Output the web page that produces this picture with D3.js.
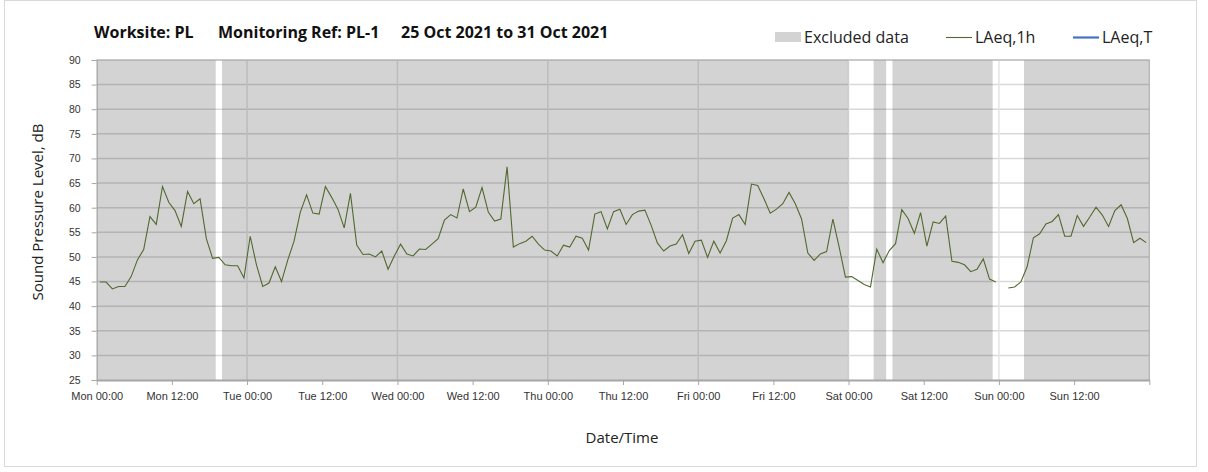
<!DOCTYPE html>
<html>
<head>
<meta charset="utf-8">
<script src="https://cdn.jsdelivr.net/npm/d3@7"></script>
<style>
  body { margin: 0; background: #fff; }
  svg { font-family: 'Open Sans', Lato, sans-serif; }
</style>
</head>
<body>
<div id="chart"></div>
<script>
'use strict';

// hourly LAeq,1h values from Mon 25 Oct 2021 00:00 (null = no data)
var startTime = '2021-10-25 00:00';
var endTime = '2021-11-01 00:00';
var laeq1h = [
    44.9, 44.9, 43.5, 44.0, 44.0, 46.0, 49.4, 51.5, 58.2, 56.6, 64.3, 61.1,
    59.4, 56.2, 63.3, 60.8, 61.8, 53.7, 49.7, 49.9, 48.4, 48.2, 48.2, 45.7,
    54.2, 48.4, 44.0, 44.7, 48.0, 45.0, 49.4, 53.2, 59.1, 62.6, 58.9, 58.7,
    64.3, 62.1, 59.7, 55.9, 62.9, 52.4, 50.5, 50.6, 50.0, 51.2, 47.5, 50.2,
    52.6, 50.6, 50.2, 51.6, 51.5, 52.6, 53.7, 57.5, 58.6, 57.9, 63.8, 59.2,
    60.1, 64.1, 59.1, 57.3, 57.7, 68.3, 52.0, 52.7, 53.2, 54.2, 52.6, 51.4,
    51.2, 50.2, 52.4, 52.0, 54.2, 53.8, 51.4, 58.7, 59.2, 55.7, 59.2, 59.7,
    56.6, 58.6, 59.3, 59.5, 56.4, 52.8, 51.2, 52.2, 52.6, 54.5, 50.7, 53.2,
    53.4, 49.9, 53.2, 50.8, 53.3, 57.9, 58.6, 56.6, 64.8, 64.5, 61.8, 58.9,
    59.7, 60.8, 63.1, 60.8, 57.7, 50.8, 49.3, 50.6, 51.1, 57.7, 52.0, 45.9,
    46.0, 45.2, 44.4, 43.9, 51.6, 48.8, 51.3, 52.7, 59.6, 57.8, 54.8, 59.0,
    52.2, 57.1, 56.8, 58.3, 49.1, 48.9, 48.4, 47.0, 47.5, 49.6, 45.5, 44.9,
    null, 43.7, 43.9, 44.9, 48.0, 53.9, 54.7, 56.7, 57.2, 58.6, 54.2, 54.2,
    58.4, 56.2, 58.1, 60.1, 58.5, 56.2, 59.4, 60.6, 57.8, 52.9, 53.8, 52.9
];

// excluded periods
var excludedFrom = ['2021-10-25 00:00', '2021-10-25 20:00', '2021-10-30 04:00', '2021-10-30 07:00', '2021-10-31 04:00'];
var excludedTo = ['2021-10-25 19:00', '2021-10-30 00:00', '2021-10-30 06:00', '2021-10-30 23:00', '2021-11-01 00:00'];

var yTicks = [25, 30, 35, 40, 45, 50, 55, 60, 65, 70, 75, 80, 85, 90];

var width = 1208, height = 472;
var margin = {left: 96.7, right: 58.7, top: 60, bottom: 92};

var parse = d3.timeParse('%Y-%m-%d %H:%M');
var t0 = parse(startTime), t1 = parse(endTime);

var svg = d3.select('#chart').append('svg')
    .attr('width', width)
    .attr('height', height);

// chart area border
svg.append('rect')
    .attr('x', 4.5).attr('y', 0.5)
    .attr('width', 1192).attr('height', 466)
    .attr('fill', '#fff')
    .attr('stroke', '#d9d9d9');

var x = d3.scaleTime()
    .domain([t0, t1])
    .range([margin.left, width - margin.right]);

var y = d3.scaleLinear()
    .domain([25, 90])
    .range([height - margin.bottom, margin.top]);

var plotH = y.range()[0] - y.range()[1];

// gridlines
svg.append('g').selectAll('line')
    .data(yTicks.slice(1))
    .enter().append('line')
    .attr('x1', x.range()[0]).attr('x2', x.range()[1])
    .attr('y1', function (d) { return y(d); })
    .attr('y2', function (d) { return y(d); })
    .attr('stroke', '#d9d9d9')
    .attr('stroke-width', 1.5);

var days = d3.timeDay.range(d3.timeDay.offset(t0, 1), t1);
svg.append('g').selectAll('line')
    .data(days)
    .enter().append('line')
    .attr('x1', function (d) { return x(d); })
    .attr('x2', function (d) { return x(d); })
    .attr('y1', y.range()[1]).attr('y2', y.range()[0])
    .attr('stroke', '#e4e4e4')
    .attr('stroke-width', 1.5);

// excluded data shading
svg.append('g').selectAll('rect')
    .data(excludedFrom.map(function (d, i) { return [parse(d), parse(excludedTo[i])]; }))
    .enter().append('rect')
    .attr('x', function (d) { return x(d[0]); })
    .attr('width', function (d) { return x(d[1]) - x(d[0]); })
    .attr('y', y.range()[1])
    .attr('height', plotH)
    .attr('fill', '#000')
    .attr('fill-opacity', 0.172);

// plot frame (top / right)
svg.append('path')
    .attr('d', 'M' + x.range()[0] + ',' + y.range()[1] + 'H' + x.range()[1] + 'V' + y.range()[0])
    .attr('fill', 'none')
    .attr('stroke', '#b0b0b0')
    .attr('stroke-width', 1.2);

// axes
var yAxis = svg.append('g')
    .attr('transform', 'translate(' + margin.left + ',0)')
    .call(d3.axisLeft(y).tickValues(yTicks).tickSize(5).tickPadding(11));
yAxis.select('.domain').attr('stroke', '#a6a6a6').attr('stroke-width', 1.2);
yAxis.selectAll('.tick line').attr('stroke', '#a6a6a6');
yAxis.selectAll('text').attr('font-size', 10.5).attr('fill', '#333');

var fmt = d3.timeFormat('%a %H:%M');
var xAxis = svg.append('g')
    .attr('transform', 'translate(0,' + y.range()[0] + ')')
    .call(d3.axisBottom(x)
        .tickValues(d3.timeHour.every(12).range(t0, d3.timeHour.offset(t1, 1)))
        .tickFormat(function (d) { return +d === +t1 ? '' : fmt(d); })
        .tickSize(5).tickSizeOuter(0).tickPadding(7));
xAxis.select('.domain').attr('stroke', '#a6a6a6').attr('stroke-width', 2);
xAxis.selectAll('.tick line').attr('stroke', '#a6a6a6');
xAxis.selectAll('text').attr('font-size', 11).attr('fill', '#333');

// LAeq,1h line (plotted at mid hour)
var line = d3.line()
    .defined(function (d) { return d !== null; })
    .x(function (d, i) { return x(d3.timeMinute.offset(t0, i * 60 + 30)); })
    .y(function (d) { return y(d); });

svg.append('path')
    .datum(laeq1h)
    .attr('d', line)
    .attr('fill', 'none')
    .attr('stroke', '#52692f')
    .attr('stroke-width', 1.1);

// titles
var title = svg.append('g')
    .attr('font-weight', 'bold')
    .attr('font-size', 16)
    .attr('fill', '#111');
title.append('text').attr('x', 94).attr('y', 38).text('Worksite: PL');
title.append('text').attr('x', 218).attr('y', 38).text('Monitoring Ref: PL-1');
title.append('text').attr('x', 401).attr('y', 38).text('25 Oct 2021 to 31 Oct 2021');

svg.append('text')
    .attr('transform', 'translate(43,212) rotate(-90)')
    .attr('text-anchor', 'middle')
    .attr('font-size', 15)
    .attr('fill', '#222')
    .text('Sound Pressure Level, dB');

svg.append('text')
    .attr('x', 622).attr('y', 443)
    .attr('text-anchor', 'middle')
    .attr('font-size', 15)
    .attr('fill', '#222')
    .text('Date/Time');

// legend
var legend = svg.append('g').attr('font-size', 16).attr('fill', '#222');
legend.append('rect')
    .attr('x', 775).attr('y', 32).attr('width', 26).attr('height', 10)
    .attr('fill', '#000').attr('fill-opacity', 0.172);
legend.append('text').attr('x', 804).attr('y', 42.5).text('Excluded data');
legend.append('line')
    .attr('x1', 946).attr('x2', 972).attr('y1', 37.5).attr('y2', 37.5)
    .attr('stroke', '#52692f').attr('stroke-width', 1.1);
legend.append('text').attr('x', 975).attr('y', 42.5).text('LAeq,1h');
legend.append('line')
    .attr('x1', 1073).attr('x2', 1099).attr('y1', 37.5).attr('y2', 37.5)
    .attr('stroke', '#4472c4').attr('stroke-width', 2.2);
legend.append('text').attr('x', 1102).attr('y', 42.5).text('LAeq,T');
</script>
</body>
</html>
